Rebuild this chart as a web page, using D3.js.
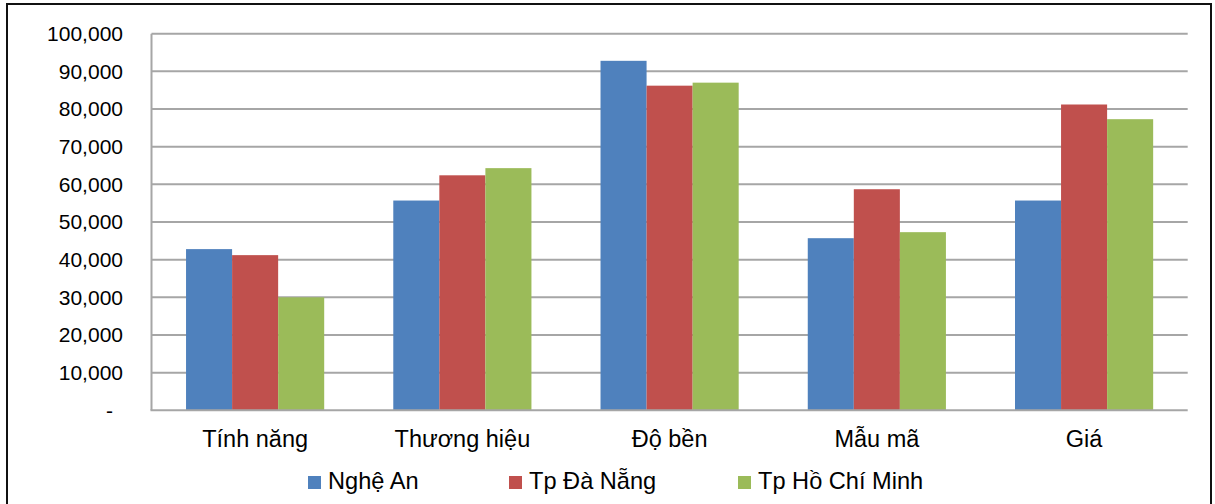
<!DOCTYPE html>
<html>
<head>
<meta charset="utf-8">
<script src="https://cdn.jsdelivr.net/npm/d3@7/dist/d3.min.js"></script>
<style>
  html, body { margin: 0; padding: 0; background: #fff; }
  svg { display: block; }
  text { font-family: "Liberation Sans", Arial, sans-serif; fill: #000; }
</style>
</head>
<body>
<svg id="chart" width="1215" height="504"></svg>
<script>
// Survey scores by criterion and city
const categories = ["Tính năng", "Thương hiệu", "Độ bền", "Mẫu mã", "Giá"];
const seriesNames = ["Nghệ An", "Tp Đà Nẵng", "Tp Hồ Chí Minh"];
const ngheAn    = [42800, 55700, 92800, 45700, 55700];
const daNang    = [41200, 62400, 86200, 58700, 81200];
const hoChiMinh = [30000, 64300, 87000, 47300, 77300];
const yTicks = [0, 10000, 20000, 30000, 40000, 50000, 60000, 70000, 80000, 90000, 100000];
const colors = ["#4f81bd", "#c0504d", "#9bbb59"];

const seriesValues = [ngheAn, daNang, hoChiMinh];

const svg = d3.select("#chart");
const plot = { left: 151.5, right: 1187.7, top: 33.7, bottom: 410.3 };

// outer frame
svg.append("rect")
  .attr("x", 7).attr("y", 4)
  .attr("width", 1204).attr("height", 520)
  .attr("fill", "none").attr("stroke", "#111").attr("stroke-width", 2);

const y = d3.scaleLinear().domain([0, 100000]).range([plot.bottom, plot.top]);
const x0 = d3.scaleBand().domain(categories).range([plot.left, plot.right]).padding(0);
const step = x0.bandwidth();
// gap between groups is 150% of one bar width
const x1 = d3.scaleBand().domain(seriesNames)
  .range([step * 0.75 / 4.5, step * 3.75 / 4.5]).padding(0);

// horizontal gridlines
svg.append("g")
  .selectAll("line")
  .data(yTicks.filter(d => d > 0))
  .join("line")
  .attr("x1", plot.left).attr("x2", plot.right)
  .attr("y1", d => y(d)).attr("y2", d => y(d))
  .attr("stroke", "#a6a6a6").attr("stroke-width", 2);

// y axis labels
const fmt = d3.format(",");
const yAxis = d3.axisLeft(y).tickValues(yTicks).tickSize(0).tickPadding(0)
  .tickFormat(d => d === 0 ? "-" : fmt(d));
const gy = svg.append("g").attr("transform", `translate(123,0)`).call(yAxis);
gy.select(".domain").remove();
gy.selectAll("text")
  .style("font-family", "'Liberation Sans', Arial, sans-serif")
  .style("font-size", "21px")
  .attr("fill", "#000")
  .attr("x", d => d === 0 ? -10 : 0);

// bars
const groups = svg.append("g").selectAll("g")
  .data(categories)
  .join("g")
  .attr("transform", d => `translate(${x0(d)},0)`);

groups.selectAll("rect")
  .data((c, i) => seriesNames.map((s, k) => ({ s, k, v: seriesValues[k][i] })))
  .join("rect")
  .attr("x", d => x1(d.s))
  .attr("y", d => y(d.v))
  .attr("width", x1.bandwidth())
  .attr("height", d => y(0) - y(d.v))
  .attr("fill", d => colors[d.k]);

// axis lines
svg.append("line")
  .attr("x1", plot.left).attr("x2", plot.left)
  .attr("y1", plot.top).attr("y2", plot.bottom)
  .attr("stroke", "#a6a6a6").attr("stroke-width", 2);
svg.append("line")
  .attr("x1", plot.left - 1).attr("x2", plot.right)
  .attr("y1", plot.bottom).attr("y2", plot.bottom)
  .attr("stroke", "#a6a6a6").attr("stroke-width", 2);

// category labels
const xAxis = d3.axisBottom(x0).tickSize(0).tickPadding(0);
const gx = svg.append("g").attr("transform", `translate(0,${plot.bottom})`).call(xAxis);
gx.select(".domain").remove();
gx.selectAll("text")
  .style("font-family", "'Liberation Sans', Arial, sans-serif")
  .style("font-size", "23.5px")
  .attr("fill", "#000")
  .attr("dy", null)
  .attr("y", 37);

// legend
const legendX = [308, 509, 738];
const legend = svg.append("g").selectAll("g")
  .data(seriesNames)
  .join("g")
  .attr("transform", (d, i) => `translate(${legendX[i]},0)`);
legend.append("rect")
  .attr("x", 0).attr("y", 476)
  .attr("width", 13).attr("height", 13)
  .attr("fill", (d, i) => colors[i]);
legend.append("text")
  .attr("x", 20).attr("y", 489)
  .style("font-size", "23.6px")
  .text(d => d);
</script>
</body>
</html>
